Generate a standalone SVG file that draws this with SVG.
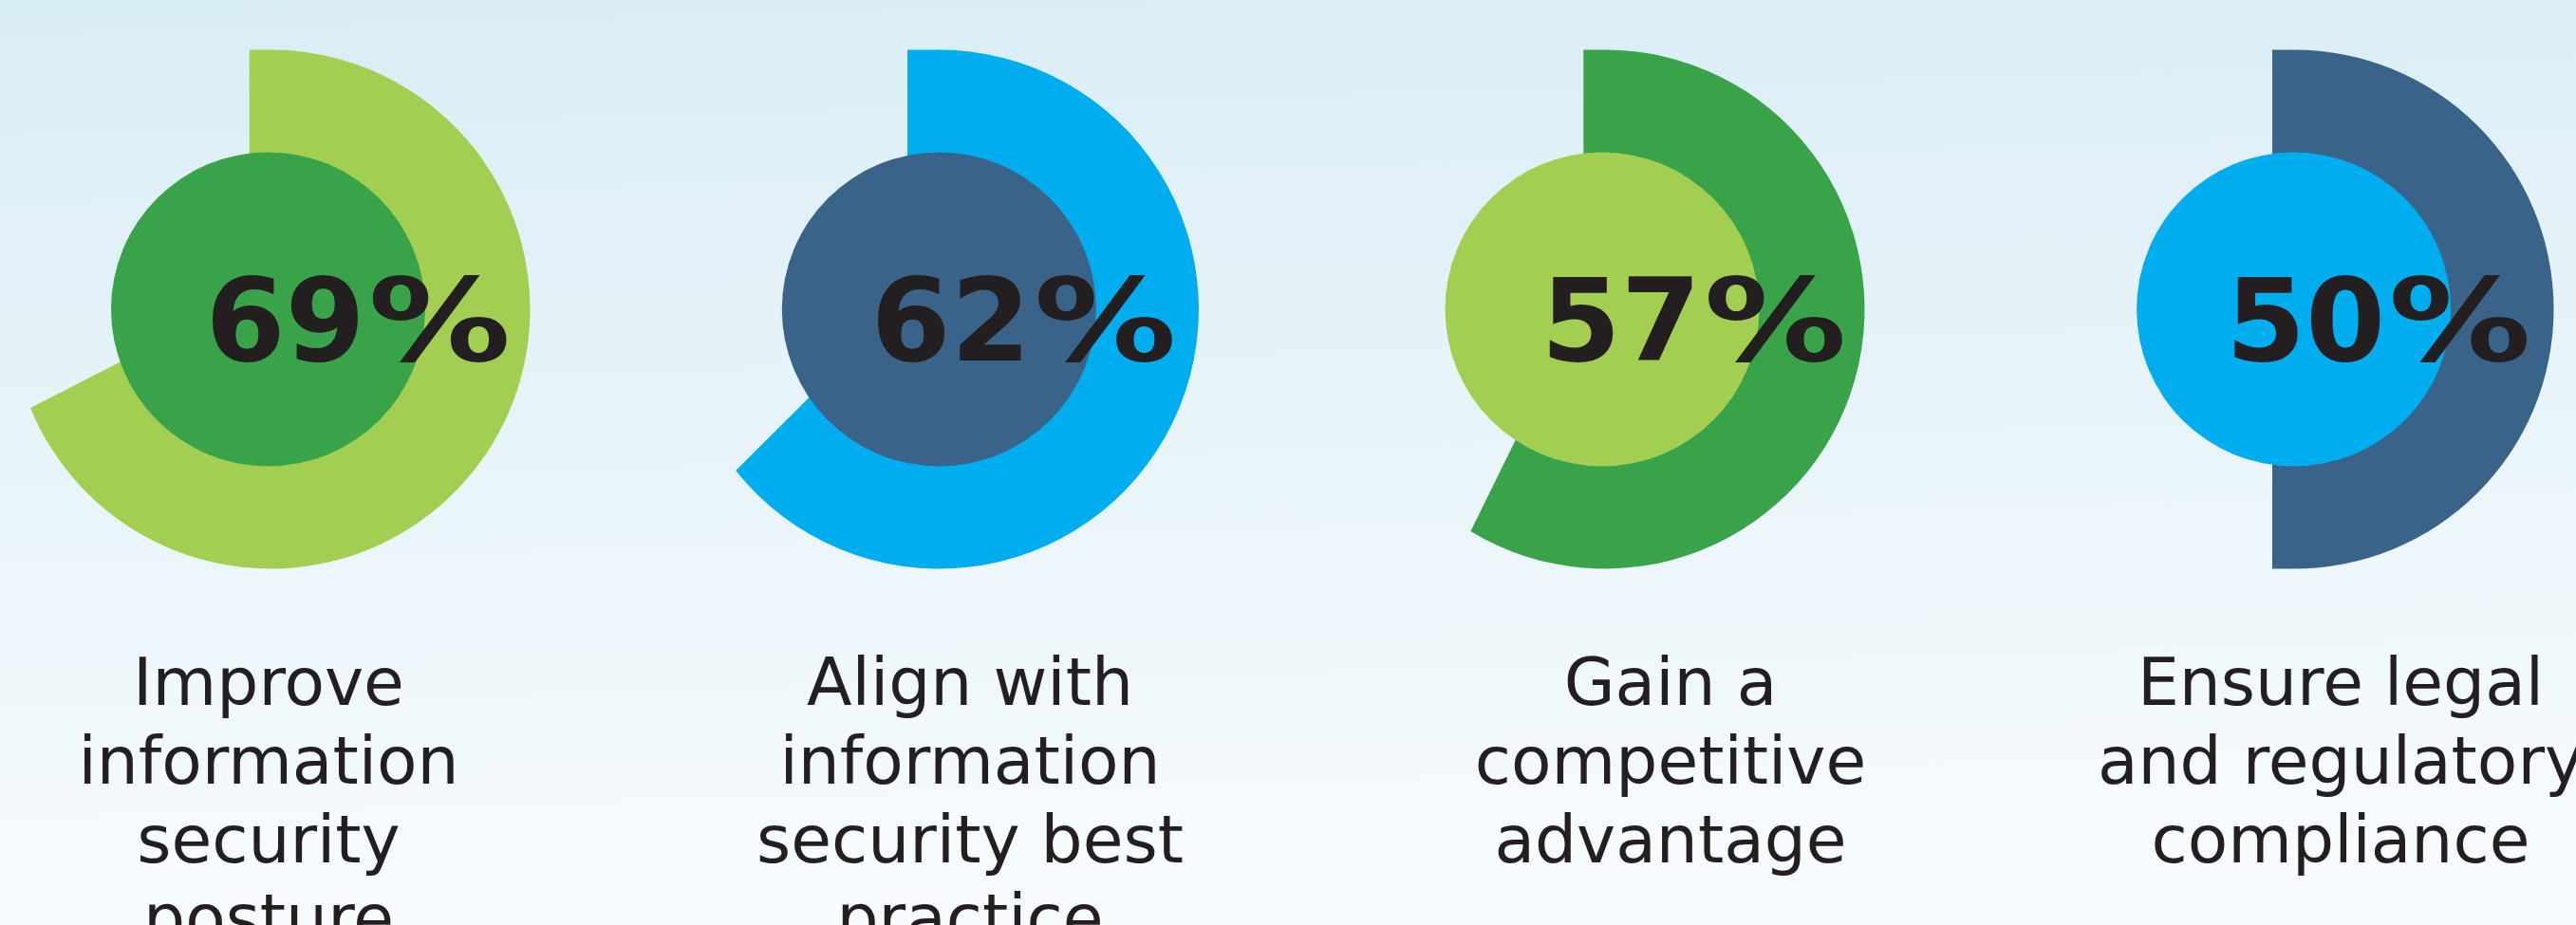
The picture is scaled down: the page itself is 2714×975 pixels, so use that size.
<svg xmlns="http://www.w3.org/2000/svg" width="2714" height="975" viewBox="0 0 2714 975">
<defs>
<linearGradient id="bg" x1="0" y1="0" x2="0.08" y2="1">
<stop offset="0" stop-color="#d9edf4"/>
<stop offset="1" stop-color="#f7fbfe"/>
</linearGradient>
<style>
.pct{font-family:"DejaVu Sans","Liberation Sans",sans-serif;font-weight:bold;font-size:121px;fill:#231f20}
.lbl{font-family:"DejaVu Sans","Liberation Sans",sans-serif;font-size:69.5px;fill:#231f20;text-anchor:middle}
.lg{fill:#a2cf51}
.dg{fill:#38a348}
.cy{fill:#00aeef}
.sb{fill:#3a6389}
</style>
</defs>
<rect width="2714" height="975" fill="url(#bg)"/>
<g id="chart1">
<path class="lg" d="M262.7,52.5 L285,52.5 A273.5,273.5 0 1 1 32,429.9 L262.7,311.7 Z"/>
<circle class="dg" cx="282.5" cy="326" r="165.5"/>
<text class="pct" x="216.4" y="380">69</text>
<text class="pct" transform="translate(388,380) scale(1.24,1)">%</text>
<text class="lbl" x="283" y="743">Improve</text>
<text class="lbl" x="283" y="826">information</text>
<text class="lbl" x="283" y="909">security</text>
<text class="lbl" x="283" y="992">posture</text>
</g>
<g id="chart2">
<path class="cy" d="M956,52.5 L989.5,52.5 A273.5,273.5 0 1 1 775.2,496 L956,315.7 Z"/>
<circle class="sb" cx="989.3" cy="326" r="165.5"/>
<text class="pct" x="917.6" y="380">62</text>
<text class="pct" transform="translate(1089.2,380) scale(1.24,1)">%</text>
<text class="lbl" x="1022" y="743">Align with</text>
<text class="lbl" x="1022" y="826">information</text>
<text class="lbl" x="1022" y="909">security best</text>
<text class="lbl" x="1022" y="992">practice</text>
</g>
<g id="chart3">
<path class="dg" d="M1668.3,52.5 L1691,52.5 A273.5,273.5 0 1 1 1549.4,560 L1668.3,318.5 Z"/>
<circle class="lg" cx="1688" cy="326" r="165.5"/>
<text class="pct" x="1623.6" y="380">57</text>
<text class="pct" transform="translate(1795.2,380) scale(1.24,1)">%</text>
<text class="lbl" x="1760" y="743">Gain a</text>
<text class="lbl" x="1760" y="826">competitive</text>
<text class="lbl" x="1760" y="909">advantage</text>
</g>
<g id="chart4">
<path class="sb" d="M2394,52.5 L2417,52.5 A273.5,273.5 0 0 1 2417,599.5 L2394,599.5 Z"/>
<circle class="cy" cx="2416.6" cy="326" r="165.5"/>
<text class="pct" x="2344.9" y="380">50</text>
<text class="pct" transform="translate(2516.5,380) scale(1.24,1)">%</text>
<text class="lbl" x="2466" y="743">Ensure legal</text>
<text class="lbl" x="2466" y="826">and regulatory</text>
<text class="lbl" x="2466" y="909">compliance</text>
</g>
<g id="connectors"/>
</svg>
